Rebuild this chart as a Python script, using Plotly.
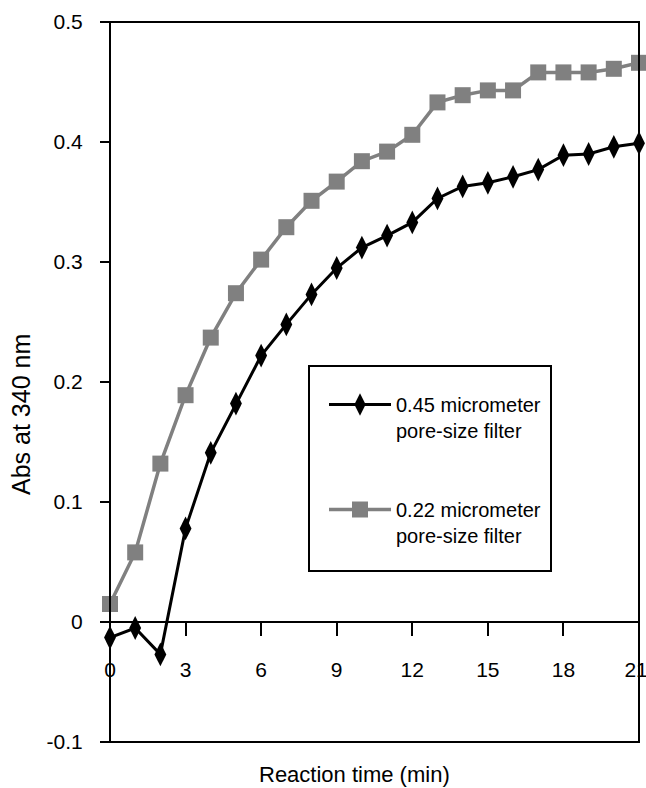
import plotly.graph_objects as go

# Absorbance at 340 nm over reaction time for two filter pore sizes
time_min = list(range(22))
abs_045 = [-0.013, -0.005, -0.027, 0.078, 0.141, 0.182, 0.222, 0.248, 0.273, 0.295, 0.312,
           0.322, 0.333, 0.353, 0.363, 0.366, 0.371, 0.377, 0.389, 0.390, 0.396, 0.399]
abs_022 = [0.015, 0.058, 0.132, 0.189, 0.237, 0.274, 0.302, 0.329, 0.351, 0.367, 0.384,
           0.392, 0.406, 0.433, 0.439, 0.443, 0.443, 0.458, 0.458, 0.458, 0.461, 0.466]

series_names = ["0.45 micrometer<br>pore-size filter", "0.22 micrometer<br>pore-size filter"]
x_ticks = [0, 3, 6, 9, 12, 15, 18, 21]
# last label padded so it sits a little inside the right edge
x_tick_text = ["0", "3", "6", "9", "12", "15", "18", "21\u00a0"]
y_ticks = [-0.1, 0, 0.1, 0.2, 0.3, 0.4, 0.5]
y_tick_text = ["-0.1", "0", "0.1", "0.2", "0.3", "0.4", "0.5"]

FONT = "Liberation Sans, Arial, sans-serif"
x_range = [0, 21]
y_range = [-0.1, 0.5]

fig = go.Figure()
fig.add_trace(go.Scatter(
    x=time_min, y=abs_045, name=series_names[0], mode="lines+markers",
    line=dict(color="black", width=3),
    marker=dict(symbol="diamond-tall", size=17, color="black"),
    cliponaxis=False, legendgroup="g045",
))
fig.add_trace(go.Scatter(
    x=time_min, y=abs_022, name=series_names[1], mode="lines+markers",
    line=dict(color="#808080", width=3.5),
    marker=dict(symbol="square", size=16, color="#808080"),
    cliponaxis=False, legendgroup="g022",
))

# x axis crosses the y axis at zero
zero_pos = (0 - y_range[0]) / (y_range[1] - y_range[0])

fig.update_layout(
    width=646, height=788,
    margin=dict(l=110, r=7, t=22, b=46, autoexpand=False),
    paper_bgcolor="white", plot_bgcolor="white",
    font=dict(family=FONT, size=21, color="black"),
    xaxis=dict(
        range=x_range, tickvals=x_ticks, ticktext=x_tick_text,
        anchor="free", position=zero_pos, automargin=False,
        showline=True, linecolor="black", linewidth=2,
        ticks="outside", ticklen=13, tickwidth=2, tickcolor="black",
        showgrid=False, zeroline=False,
        tickfont=dict(size=21), ticklabelstandoff=16, ticklabeloverflow="allow",
    ),
    yaxis=dict(
        range=y_range, tickvals=y_ticks, ticktext=y_tick_text, automargin=False,
        showline=False, ticks="outside", ticklen=9, tickwidth=2, tickcolor="black",
        showgrid=False, zeroline=False,
        tickfont=dict(size=21), ticklabelstandoff=13,
    ),
    showlegend=True,
    legend=dict(
        x=(324 - 110) / 529, y=(742 - 385) / 720, xanchor="left", yanchor="top",
        bgcolor="rgba(0,0,0,0)", borderwidth=0,
        font=dict(family=FONT, size=20),
        valign="top", traceorder="grouped", tracegroupgap=50, itemwidth=62,
    ),
    shapes=[
        # plot frame
        dict(type="rect", xref="paper", yref="paper", x0=0, x1=1, y0=0, y1=1,
             line=dict(color="black", width=2), layer="above"),
        # legend frame
        dict(type="rect", xref="paper", yref="paper",
             x0=(309 - 110) / 529, x1=(551 - 110) / 529,
             y0=(742 - 571) / 720, y1=(742 - 366) / 720,
             line=dict(color="black", width=2), fillcolor="white", layer="below"),
    ],
    annotations=[
        dict(text="Reaction time (min)", xref="paper", yref="paper",
             x=(354 - 110) / 529, y=(742 - 774) / 720, xanchor="center", yanchor="middle",
             showarrow=False, font=dict(size=22)),
        dict(text="Abs at 340 nm", xref="paper", yref="paper",
             x=(21 - 110) / 529, y=(742 - 415) / 720, xanchor="center", yanchor="middle",
             textangle=-90, showarrow=False, font=dict(size=25)),
    ],
)

fig.write_html("out.html")
